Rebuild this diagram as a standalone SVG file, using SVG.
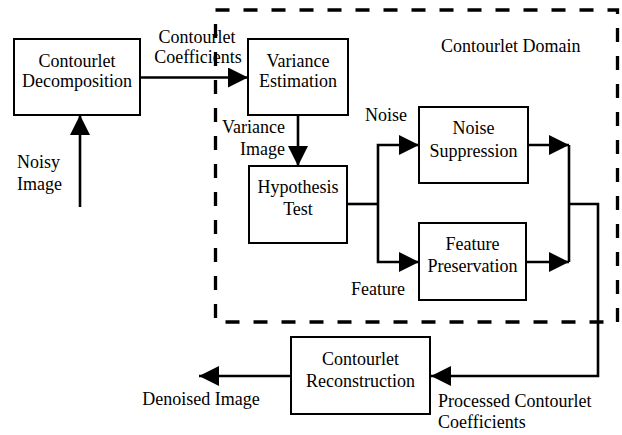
<svg xmlns="http://www.w3.org/2000/svg" width="622" height="435" viewBox="0 0 622 435">
<style>
.box{fill:#fff;stroke:#000;stroke-width:2}
.t{font-family:"Liberation Serif","Times New Roman",serif;font-size:18px;fill:#000}
.m{text-anchor:middle}
.e{text-anchor:end}
.c{fill:none;stroke:#000;stroke-width:2.6}
.dash{fill:none;stroke:#000;stroke-width:3.3;stroke-dasharray:14 14}
</style>
<defs>
<marker id="arr" viewBox="0 0 20 20" refX="20" refY="10" markerWidth="20" markerHeight="20" markerUnits="userSpaceOnUse" orient="auto">
<path d="M0,0 L20,10 L0,20 z" fill="#000"/>
</marker>
</defs>
<rect class="dash" x="215.5" y="10" width="402" height="312"/>
<text class="t" x="441" y="52">Contourlet Domain</text>
<g id="connectors">
<path class="c" d="M140,77.5 H248" marker-end="url(#arr)"/>
<path class="c" d="M80,207 V115" marker-end="url(#arr)"/>
<path class="c" d="M298,115 V166" marker-end="url(#arr)"/>
<path class="c" d="M347,204 H378"/>
<path class="c" d="M378,204 V145 H419" marker-end="url(#arr)"/>
<path class="c" d="M378,204 V262 H419" marker-end="url(#arr)"/>
<path class="c" d="M528,145 H569" marker-end="url(#arr)"/>
<path class="c" d="M526,262 H569" marker-end="url(#arr)"/>
<path class="c" d="M569,145 V262"/>
<path class="c" d="M569,204 H598 V376 H431" marker-end="url(#arr)"/>
<path class="c" d="M291,376 H199" marker-end="url(#arr)"/>
<text class="t m" x="197" y="43">Contourlet</text>
<text class="t m" x="198" y="63">Coefficients</text>
<text class="t" x="17" y="168">Noisy</text>
<text class="t" x="17" y="190">Image</text>
<text class="t e" x="285" y="133">Variance</text>
<text class="t e" x="285" y="155">Image</text>
<text class="t" x="365" y="121">Noise</text>
<text class="t" x="351" y="295">Feature</text>
<text class="t m" x="201" y="405">Denoised Image</text>
<text class="t" x="438" y="407">Processed Contourlet</text>
<text class="t" x="438" y="428">Coefficients</text>
</g>
<g id="decomposition">
<rect class="box" x="14" y="39" width="126" height="76"/>
<text class="t m" x="77" y="67">Contourlet</text>
<text class="t m" x="77" y="87">Decomposition</text>
</g>
<g id="variance">
<rect class="box" x="248" y="39" width="100" height="76"/>
<text class="t m" x="298" y="67">Variance</text>
<text class="t m" x="298" y="87">Estimation</text>
</g>
<g id="hypothesis">
<rect class="box" x="249" y="166" width="98" height="77"/>
<text class="t m" x="298" y="193">Hypothesis</text>
<text class="t m" x="298" y="215">Test</text>
</g>
<g id="noise">
<rect class="box" x="419" y="107" width="109" height="76"/>
<text class="t m" x="473.5" y="134">Noise</text>
<text class="t m" x="473.5" y="157">Suppression</text>
</g>
<g id="feature">
<rect class="box" x="419" y="223" width="107" height="77"/>
<text class="t m" x="472.5" y="250">Feature</text>
<text class="t m" x="472.5" y="272">Preservation</text>
</g>
<g id="reconstruction">
<rect class="box" x="291" y="337" width="139" height="77"/>
<text class="t m" x="360.5" y="365">Contourlet</text>
<text class="t m" x="360.5" y="387">Reconstruction</text>
</g>
</svg>
